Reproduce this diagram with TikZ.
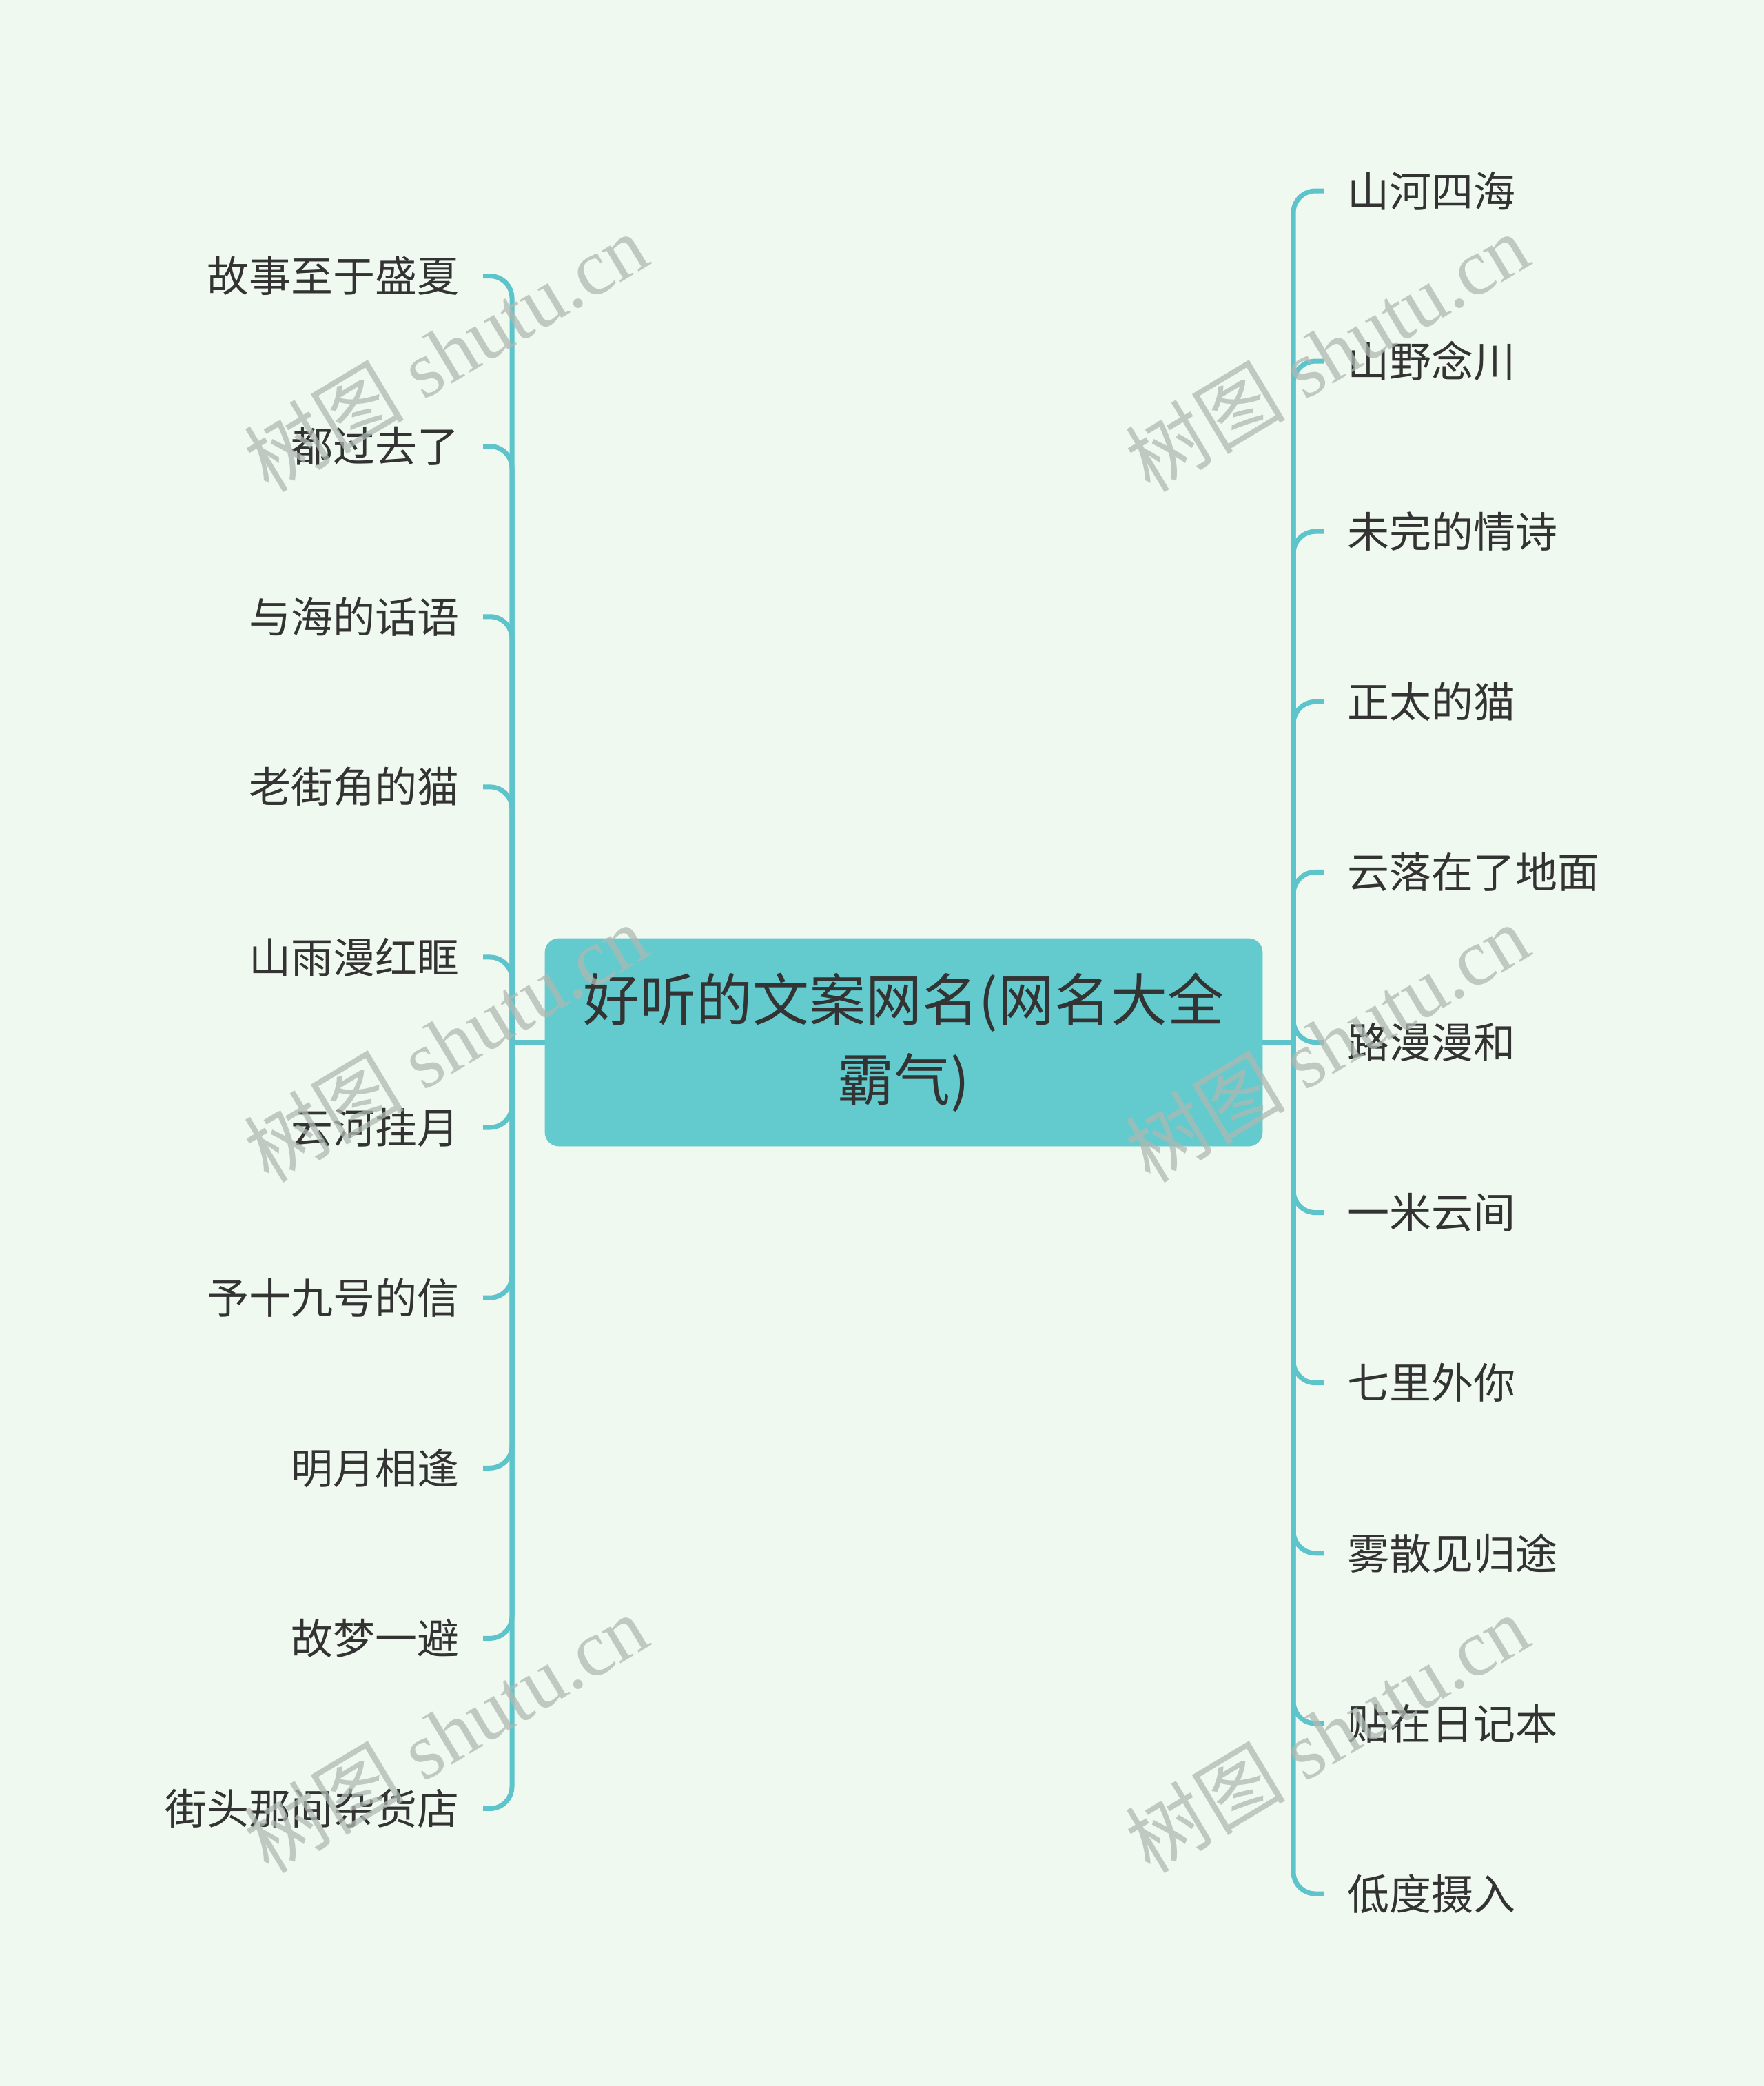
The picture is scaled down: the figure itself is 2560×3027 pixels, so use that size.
\documentclass[tikz,border=0pt]{standalone}
\usepackage{fontspec}
\newfontfamily\cjk{Noto Sans CJK SC}
\newfontfamily\wmlat{Liberation Serif}
\definecolor{bg}{RGB}{240,249,239}
\definecolor{linec}{RGB}{92,196,202}
\definecolor{rootfill}{RGB}{99,203,206}
\definecolor{txt}{RGB}{51,51,51}
\definecolor{wm}{RGB}{175,185,178}
\begin{document}
\begin{tikzpicture}[x=0.5pt,y=-0.5pt,
  conn/.style={draw=linec,line width=3.5pt,rounded corners=16pt},
  leafL/.style={anchor=east,inner xsep=17pt,inner ysep=0pt,text=txt,font=\cjk\fontsize{30.5pt}{36pt}\selectfont},
  leafR/.style={anchor=west,inner xsep=17pt,inner ysep=0pt,text=txt,font=\cjk\fontsize{30.5pt}{36pt}\selectfont},
  rootbox/.style={fill=rootfill,draw=rootfill,rounded corners=10pt,minimum width=520.5pt,minimum height=150.5pt,align=center,text=txt,font=\cjk\fontsize{41pt}{58pt}\selectfont},
  wmark/.style={rotate=31,text=wm,text opacity=0.75,font=\wmlat\fontsize{58pt}{60pt}\selectfont}]
\fill[bg] (0,0) rectangle (2560,3027);
\useasboundingbox (0,0) rectangle (2560,3027);
\node[rootbox] (root) at (1311.5,1512.5) {好听的文案网名(网名大全\\霸气)};
\coordinate (jl) at (743,1512.5);
\coordinate (jr) at (1877,1512.5);
\draw[conn] (root.west) -- (jl);
\draw[conn] (root.east) -- (jr);
\foreach \t [count=\i] in {故事至于盛夏,都过去了,与海的话语,老街角的猫,山雨漫红眶,云河挂月,予十九号的信,明月相逢,故梦一避,街头那间杂货店}{
  \node[leafL] (L\i) at (701,{1512.5+(\i-5.5)*247.1}) {\t};
  \draw[conn] (jl) |- (L\i.east);
}
\foreach \t [count=\i] in {山河四海,山野念川,未完的情诗,正太的猫,云落在了地面,路漫漫和,一米云间,七里外你,雾散见归途,贴在日记本,低度摄入}{
  \node[leafR] (R\i) at (1921,{1512.5+(\i-6)*247.1}) {\t};
  \draw[conn] (jr) |- (R\i.west);
}
\foreach \x/\a in {647/a,1926/b}{
  \foreach \y/\b in {511/1,1513/2,2515/3}{
    \node[wmark] (wm\a\b) at (\x,\y) {{\cjk 树图} shutu.cn};
  }
}
\end{tikzpicture}
\end{document}
